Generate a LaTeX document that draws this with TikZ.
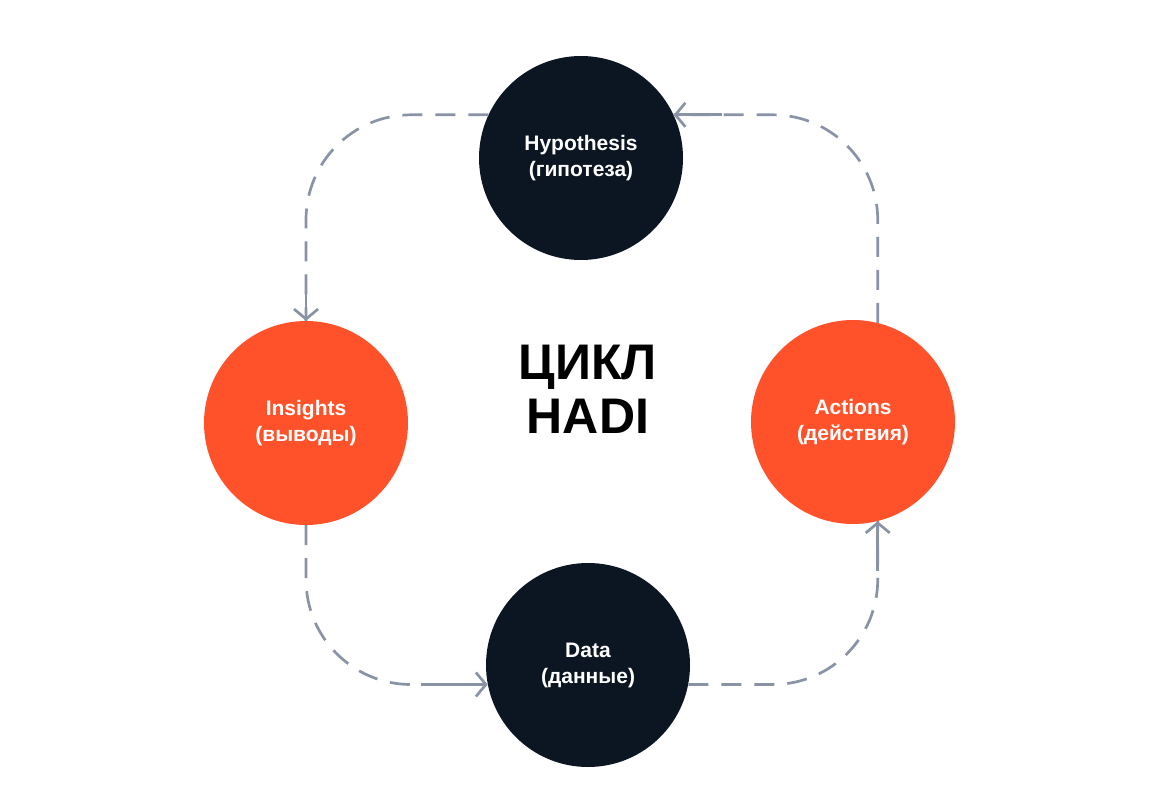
\documentclass[tikz,border=0pt]{standalone}
\usepackage{fontspec}
\setmainfont{Liberation Sans}
\usetikzlibrary{arrows.meta}
\definecolor{navy}{HTML}{0B1622}
\definecolor{flame}{HTML}{FF522A}
\definecolor{slate}{HTML}{8A93A6}
\tikzset{
  stage/.style = {circle, fill=navy, text=white, minimum size=204pt, inner sep=0pt,
                  align=center, font=\bfseries\fontsize{21}{26}\selectfont},
  hot/.style   = {stage, fill=flame},
  flow/.style  = {draw=slate, line width=2.7pt, dash pattern=on 20pt off 13pt,
                  rounded corners=105pt},
  tip/.style   = {draw=slate, line width=2.7pt,
                  -{Straight Barb[length=10pt,width=24pt,line width=2.7pt]}},
  title/.style = {align=center, font=\bfseries\fontsize{50}{54}\selectfont},
}
\begin{document}
\begin{tikzpicture}[x=1pt,y=-1pt]
  \useasboundingbox (0,0) rectangle (1159,800);
  % the four stages
  \node[stage] (hyp) at (581,158) {Hypothesis\\(гипотеза)};
  \node[hot]   (ins) at (306,423) {Insights\\(выводы)};
  \node[hot]   (act) at (853,422) {Actions\\(действия)};
  \node[stage] (dat) at (588,665) {Data\\(данные)};
  % centre title
  \node[title] (cyc) at (588,389) {ЦИКЛ\\HADI};
  % the loop, dashed
  \draw[flow] (hyp.155) -| (ins.north);
  \draw[flow] (ins.south) |- (dat.191);
  \draw[flow] (dat.349) -| (act.284);
  \draw[flow] (act.76) |- (hyp.25);
  % solid ends with the barbs
  \draw[tip] (ins.north) ++(0,-40) -- (ins.north);
  \draw[tip] (dat.191) ++(-67,0) -- (dat.191);
  \draw[tip] (act.284) ++(0,50) -- (act.284);
  \draw[tip] (hyp.25) ++(48,0) -- (hyp.25);
\end{tikzpicture}
\end{document}
